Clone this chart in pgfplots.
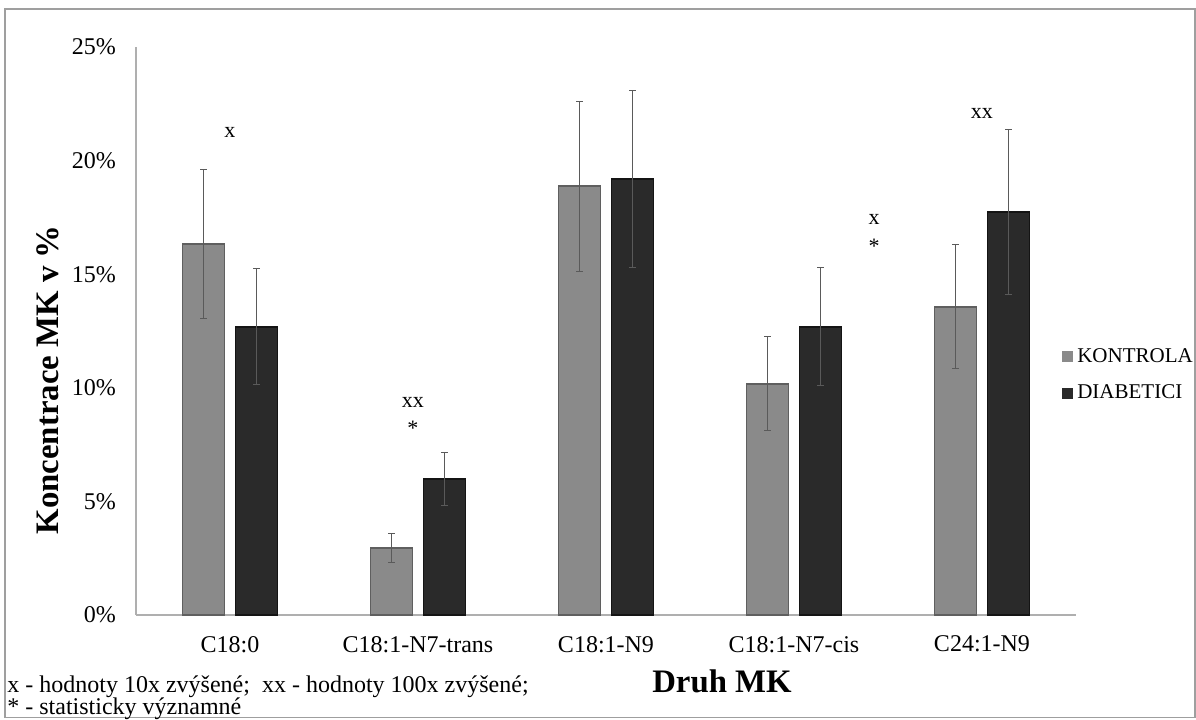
\documentclass[border=0pt]{standalone}
\usepackage{fontspec}
\setmainfont{Liberation Serif}
\usepackage{pgfplots}
\pgfplotsset{compat=1.18}
\definecolor{kfill}{RGB}{138,138,138}
\definecolor{kdraw}{RGB}{95,95,95}
\definecolor{dfill}{RGB}{42,42,42}
\definecolor{ddraw}{RGB}{20,20,20}
\definecolor{axgray}{RGB}{175,175,175}
\definecolor{errgray}{RGB}{90,90,90}
\begin{document}
\begin{tikzpicture}
\path[use as bounding box] (0,0) rectangle (598pt,-359.5pt);
\draw[color=gray!75, line width=0.9pt] (2.5pt,-4.5pt) rectangle (597.5pt,-358.7pt);
\begin{axis}[
  at={(68pt,-307.5pt)}, anchor=south west,
  scale only axis, width=470pt, height=284pt,
  ybar=5.5pt, bar width=21pt,
  xmin=-0.5, xmax=4.5, ymin=0, ymax=25,
  xtick={0,1,2,3,4},
  xticklabels={C18:0, C18:1-N7-trans, C18:1-N9, C18:1-N7-cis, C24:1-N9},
  ytick={0,5,10,15,20,25},
  yticklabels={0\%,5\%,10\%,15\%,20\%,25\%},
  axis x line*=bottom, axis y line*=left,
  axis line style={draw=axgray, line width=0.8pt},
  major tick length=0pt,
  x tick label style={font=\fontsize{12}{14}\selectfont, yshift=-7pt},
  y tick label style={font=\fontsize{12}{14}\selectfont, xshift=-6.5pt},
  clip=false,
  legend style={at={(0.985,0.4225)}, anchor=west, draw=none, fill=none,
    font=\fontsize{10.5}{12}\selectfont, inner sep=0pt, row sep=5.8pt},
  legend cell align=left,
  legend image code/.code={\fill[#1,draw=none] (0pt,-2.75pt) rectangle (5.5pt,2.75pt);},
  error bars/error bar style={draw=errgray, line width=0.5pt},
  error bars/error mark options={rotate=90, mark size=1.6pt, draw=errgray, line width=0.5pt},
]
\addplot[fill=kfill, draw=kdraw, line width=0.6pt,
  error bars/.cd, y dir=both, y explicit]
  coordinates {(0,16.33) +- (0,3.26) (1,2.95) +- (0,0.62) (2,18.88) +- (0,3.74) (3,10.17) +- (0,2.07) (4,13.56) +- (0,2.73)};
\addlegendentry{KONTROLA}
\addplot[fill=dfill, draw=ddraw, line width=0.6pt,
  error bars/.cd, y dir=both, y explicit]
  coordinates {(0,12.68) +- (0,2.55) (1,5.99) +- (0,1.18) (2,19.19) +- (0,3.90) (3,12.68) +- (0,2.60) (4,17.74) +- (0,3.65)};
\addlegendentry{DIABETICI}
\node[anchor=base, font=\fontsize{11}{12}\selectfont] at (axis cs:0,21.0) {x};
\node[anchor=base, font=\fontsize{11}{12}\selectfont] at (axis cs:0.973,9.15) {xx};
\node[anchor=base, font=\fontsize{11}{12}\selectfont] at (axis cs:0.973,7.88) {*};
\node[anchor=base, font=\fontsize{11}{12}\selectfont] at (axis cs:3.426,17.17) {x};
\node[anchor=base, font=\fontsize{11}{12}\selectfont] at (axis cs:3.426,15.89) {*};
\node[anchor=base, font=\fontsize{11}{12}\selectfont] at (axis cs:4.0,21.87) {xx};
\end{axis}
\node[rotate=90, font=\bfseries\fontsize{16.4}{19}\selectfont] at (23.75pt,-190pt) {Koncentrace MK v \%};
\node[anchor=base, font=\bfseries\fontsize{16.4}{19}\selectfont] at (361pt,-346pt) {Druh MK};
\node[anchor=base west, inner sep=0pt, font=\fontsize{12}{14}\selectfont] at (3.5pt,-346pt) {x - hodnoty 10x zvýšené;\ \ xx - hodnoty 100x zvýšené;};
\node[anchor=base west, inner sep=0pt, font=\fontsize{12}{14}\selectfont] at (3.5pt,-357pt) {* - statisticky významné};
\end{tikzpicture}
\end{document}
